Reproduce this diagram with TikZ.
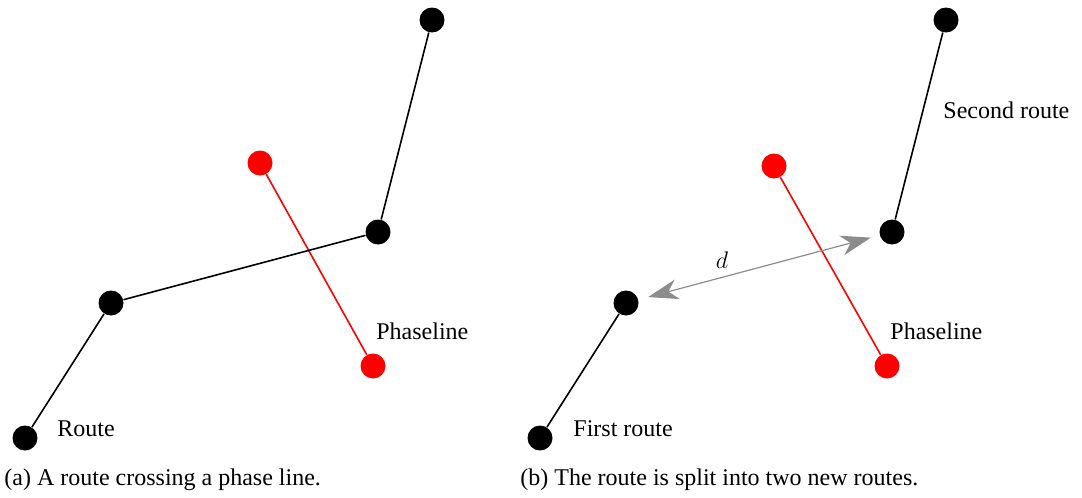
\documentclass[tikz,border=0pt]{standalone}
\usepackage{fontspec}
\setmainfont{Liberation Serif}
\usetikzlibrary{arrows.meta}
\begin{document}
\begin{tikzpicture}[x=0.5pt,y=-0.5pt,
  dot/.style={circle,fill=black,inner sep=0pt,minimum size=12.5pt},
  reddot/.style={circle,fill=red,inner sep=0pt,minimum size=12.5pt},
  route/.style={draw=black,line width=0.8pt},
  phase/.style={draw=red,line width=0.8pt},
  lbl/.style={anchor=west,inner sep=0pt,font=\fontsize{12}{14}\selectfont},
  dist/.style={draw=black!45,line width=0.6pt,{Stealth[length=15pt,width=10pt,inset=4.5pt]}-{Stealth[length=15pt,width=10pt,inset=4.5pt]},shorten <=5pt,shorten >=4.5pt}]
\useasboundingbox (0,0) rectangle (1082,498);
% (a)
\node[dot] (a1) at (25,438) {};
\node[dot] (a2) at (111,303) {};
\node[dot] (a3) at (378,232) {};
\node[dot] (a4) at (432,20) {};
\node[reddot] (ap1) at (260,163) {};
\node[reddot] (ap2) at (373,366) {};
\draw[phase] (ap1) -- (ap2);
\draw[route] (a1) -- (a2) -- (a3) -- (a4);
\node[lbl] (alr) at (57,429) {Route};
\node[lbl] (alp) at (376,331) {Phaseline};
\node[lbl] (capa) at (4,480) {(a) A route crossing a phase line.};
% (b)
\node[dot] (b1) at (540,438) {};
\node[dot] (b2) at (626,303) {};
\node[dot] (b3) at (892,232) {};
\node[dot] (b4) at (946,20) {};
\node[reddot] (bp1) at (774,166) {};
\node[reddot] (bp2) at (887,366) {};
\draw[phase] (bp1) -- (bp2);
\draw[route] (b1) -- (b2);
\draw[route] (b3) -- (b4);
\draw[dist] (b2) -- (b3);
\node[font=\fontsize{13}{15}\selectfont] (dl) at (722,260) {$d$};
\node[lbl] (blf) at (573,429) {First route};
\node[lbl] (bls) at (943,110) {Second route};
\node[lbl] (blp) at (890,331) {Phaseline};
\node[lbl] (capb) at (520,480) {(b) The route is split into two new routes.};
\end{tikzpicture}
\end{document}
